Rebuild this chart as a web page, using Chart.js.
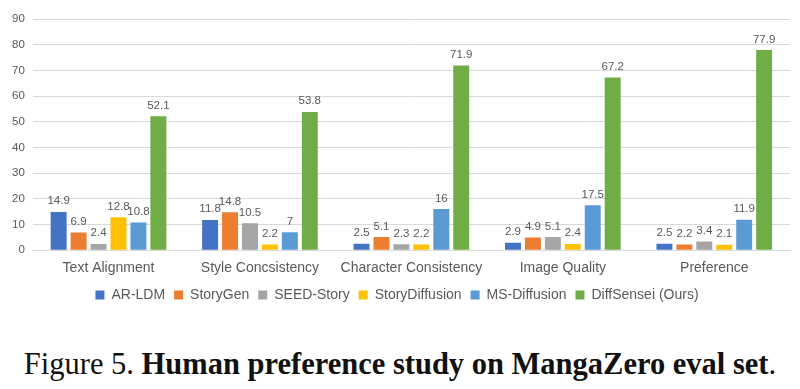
<!DOCTYPE html>
<html>
<head>
<meta charset="utf-8">
<script src="https://cdn.jsdelivr.net/npm/chart.js@4.4.1/dist/chart.umd.min.js"></script>
<style>
html,body{margin:0;padding:0;background:#fff;width:800px;height:389px;overflow:hidden;}
#wrap{position:absolute;left:0;top:0;width:800px;height:312px;}
#cap{position:absolute;left:0;top:349px;width:800px;text-align:center;font-family:"Liberation Serif","Times New Roman",serif;font-size:30.5px;line-height:1;color:#111;white-space:nowrap;}
</style>
</head>
<body>
<div id="wrap"><canvas id="c" width="800" height="312"></canvas></div>
<div id="cap">Figure 5. <b>Human preference study on MangaZero eval set</b>.</div>
<script>
const categories = ["Text Alignment","Style Concsistency","Character Consistency","Image Quality","Preference"];
const seriesNames = ["AR-LDM","StoryGen","SEED-Story","StoryDiffusion","MS-Diffusion","DiffSensei (Ours)"];
const arLdm = [14.9, 11.8, 2.5, 2.9, 2.5];
const storyGen = [6.9, 14.8, 5.1, 4.9, 2.2];
const seedStory = [2.4, 10.5, 2.3, 5.1, 3.4];
const storyDiffusion = [12.8, 2.2, 2.2, 2.4, 2.1];
const msDiffusion = [10.8, 7, 16, 17.5, 11.9];
const diffSensei = [52.1, 53.8, 71.9, 67.2, 77.9];
const yTicks = [0,10,20,30,40,50,60,70,80,90];
const colors = ["#4472C4","#ED7D31","#A5A5A5","#FFC000","#5B9BD5","#70AD47"];

const allSeries = [arLdm, storyGen, seedStory, storyDiffusion, msDiffusion, diffSensei];

const labelPlugin = {
  id: 'valueLabels',
  afterDatasetsDraw(chart){
    const ctx = chart.ctx;
    ctx.save();
    ctx.font = '11.5px "Liberation Sans", Arial, sans-serif';
    ctx.fillStyle = '#595959';
    ctx.textAlign = 'center';
    ctx.textBaseline = 'bottom';
    chart.data.datasets.forEach((ds, i) => {
      const meta = chart.getDatasetMeta(i);
      meta.data.forEach((bar, j) => {
        ctx.fillText(String(ds.data[j]), bar.x, bar.y - 5);
      });
    });
    ctx.restore();
  }
};

new Chart(document.getElementById('c'), {
  type: 'bar',
  data: {
    labels: categories,
    datasets: seriesNames.map((n, i) => ({
      label: n,
      data: allSeries[i],
      backgroundColor: colors[i],
      borderWidth: 0,
      categoryPercentage: 0.79,
      barPercentage: 0.8
    }))
  },
  options: {
    responsive: false,
    animation: false,
    devicePixelRatio: 1,
    layout: { padding: { left: 4, right: 10, top: 19, bottom: 0 } },
    plugins: {
      legend: {
        position: 'bottom',
        labels: {
          boxWidth: 9, boxHeight: 9, padding: 9,
          color: '#595959',
          font: { family: '"Liberation Sans", Arial, sans-serif', size: 14 }
        }
      },
      tooltip: { enabled: false }
    },
    scales: {
      x: {
        grid: { display: false },
        border: { display: true, color: '#d9d9d9' },
        ticks: { color: '#595959', font: { family: '"Liberation Sans", Arial, sans-serif', size: 14 }, padding: 2 }
      },
      y: {
        min: 0, max: 90,
        afterBuildTicks(axis){ axis.ticks = yTicks.map(v => ({value: v})); },
        grid: { color: '#d9d9d9', drawTicks: false },
        border: { display: false },
        ticks: { color: '#595959', font: { family: '"Liberation Sans", Arial, sans-serif', size: 11.5 }, padding: 8 }
      }
    }
  },
  plugins: [labelPlugin]
});
</script>
</body>
</html>
